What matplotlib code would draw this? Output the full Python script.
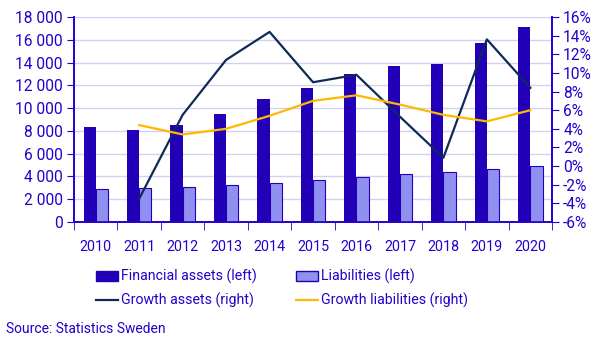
import numpy as np
import matplotlib.pyplot as plt
from matplotlib.lines import Line2D
from matplotlib.patches import Patch

plt.rcParams['font.family'] = ['Roboto', 'DejaVu Sans']

years = ['2010', '2011', '2012', '2013', '2014', '2015', '2016', '2017', '2018', '2019', '2020']
fin_assets = [8340, 8080, 8520, 9480, 10800, 11760, 13000, 13700, 13870, 15740, 17120]
liabilities = [2870, 2960, 3045, 3250, 3420, 3660, 3920, 4210, 4360, 4630, 4920]
# growth in percent, first year has no value
growth_assets = [np.nan, -3.5, 5.5, 11.4, 14.4, 9.0, 9.8, 5.3, 0.9, 13.6, 8.4]
growth_liab = [np.nan, 4.4, 3.4, 4.0, 5.4, 7.0, 7.6, 6.6, 5.5, 4.8, 6.0]

txt = '#2400CC'
c_assets = '#2200B8'
c_liab = '#9090F0'
c_ga = '#0F2A55'
c_gl = '#FFB800'

fig = plt.figure(figsize=(6.06, 3.4), dpi=100)
ax = fig.add_axes([0.1221, 0.347, 0.7889, 0.603])
ax2 = ax.twinx()

x = np.arange(len(years))
w = 0.28
ax.bar(x - w / 2, fin_assets, w, color=c_assets, zorder=3)
ax.bar(x + w / 2, liabilities, w, color=c_liab, edgecolor=c_assets, linewidth=0.8, zorder=3)

ax2.plot(x, growth_assets, color=c_ga, linewidth=1.6)
ax2.plot(x, growth_liab, color=c_gl, linewidth=1.6)

ax.set_xlim(-0.5, len(years) - 0.5)
ax.set_ylim(0, 18000)
ax.set_yticks(range(0, 18001, 2000))
ax.set_yticklabels([f'{v:,}'.replace(',', ' ') for v in range(0, 18001, 2000)])
ax2.set_ylim(-6, 16)
ax2.set_yticks(range(-6, 17, 2))
ax2.set_yticklabels([f'{v}%' for v in range(-6, 17, 2)])

ax.set_xticks(x)
ax.set_xticklabels(years)
ax.set_xticks(np.arange(-0.5, len(years)), minor=True)
ax.tick_params(axis='x', which='major', length=0, pad=13, colors=txt, labelsize=10.3)
ax.tick_params(axis='x', which='minor', length=6, color=txt)
ax.tick_params(axis='y', length=5, color=txt, labelcolor=txt, labelsize=11.2, pad=3)
ax2.tick_params(axis='y', length=5, color=txt, labelcolor=txt, labelsize=11.2, pad=3)

ax.grid(axis='y', color='#D2D2F0', linewidth=1, zorder=0)
for a in (ax, ax2):
    a.spines['top'].set_visible(False)
    for s in ('left', 'right', 'bottom'):
        a.spines[s].set_color(txt)
        a.spines[s].set_linewidth(1.2)

# legend fills column-wise, so order gives rows: bars, then lines
handles = [Patch(facecolor=c_assets, edgecolor=c_assets),
           Line2D([], [], color=c_ga, linewidth=1.6),
           Patch(facecolor=c_liab, edgecolor=c_assets),
           Line2D([], [], color=c_gl, linewidth=1.6)]
labels = ['Financial assets (left)', 'Growth assets (right)',
          'Liabilities (left)', 'Growth liabilities (right)']
leg = fig.legend(handles, labels, ncol=2, loc='upper left', bbox_to_anchor=(0.158, 0.209),
                 frameon=False, fontsize=10.2, handlelength=1.55, handleheight=0.65,
                 handletextpad=0.2, columnspacing=2.8, labelspacing=0.6, borderpad=0,
                 borderaxespad=0)
for t in leg.get_texts():
    t.set_color(txt)

fig.text(0.01, 0.02, 'Source: Statistics Sweden', color=txt, fontsize=10)

fig.savefig('out.png', dpi=100)
